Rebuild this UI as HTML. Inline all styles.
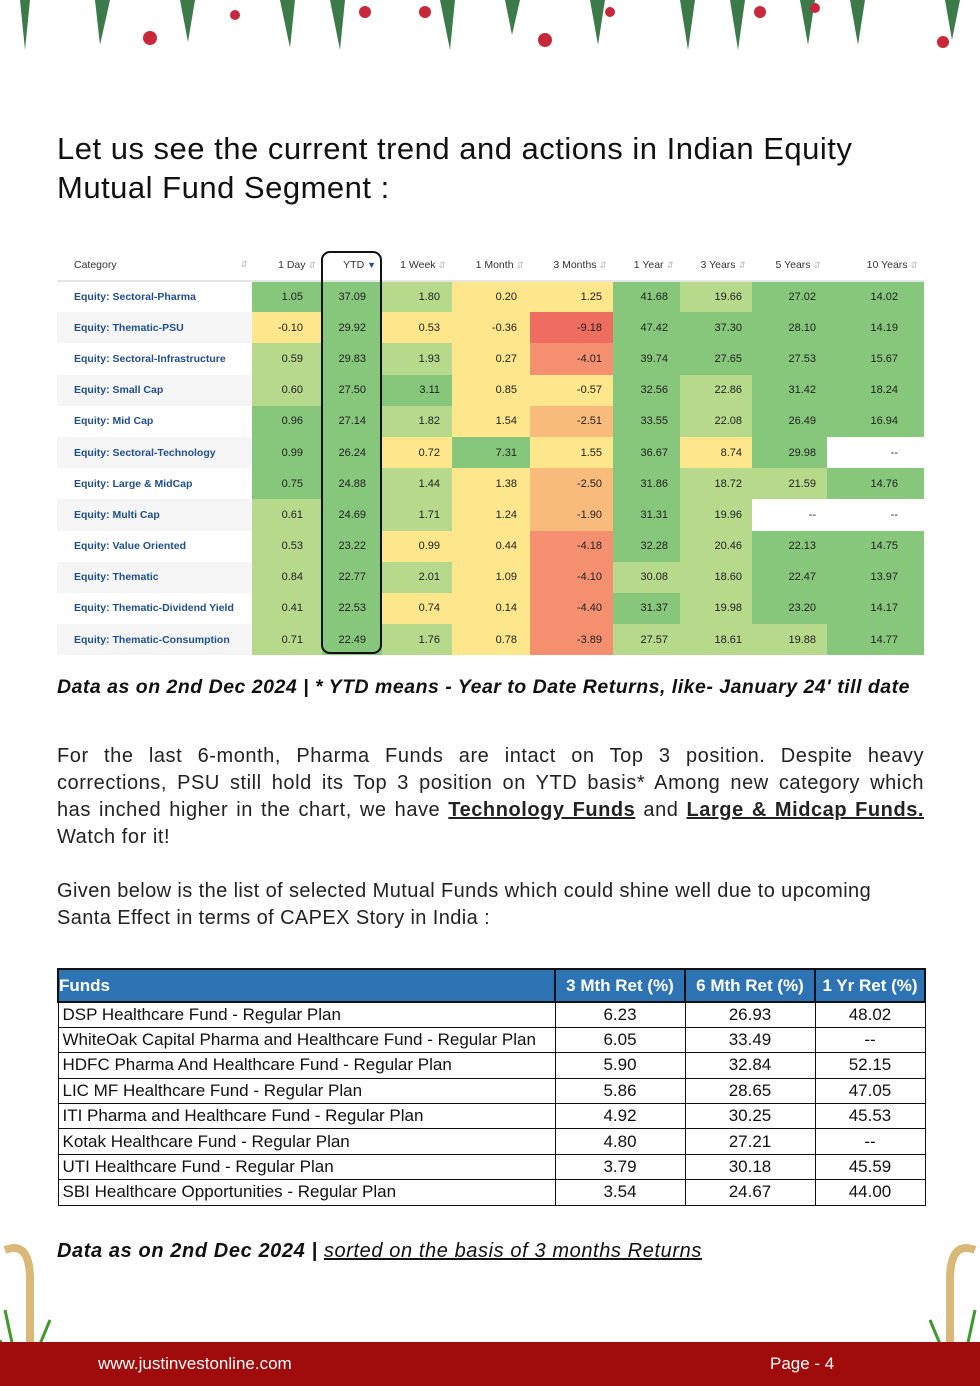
<!DOCTYPE html>
<html><head><meta charset="utf-8">
<style>
*{margin:0;padding:0;box-sizing:border-box}
body{width:980px;height:1386px;position:relative;background:#fff;font-family:"Liberation Sans",sans-serif;overflow:hidden}
.abs{position:absolute}
h1{position:absolute;left:57px;top:129px;font-weight:normal;font-size:31px;line-height:39px;color:#111;letter-spacing:0.5px}
#heat{position:absolute;left:57px;top:249px;width:867px;border-collapse:collapse;font-size:11px;table-layout:fixed}
#heat th{height:32px;font-weight:normal;color:#333;text-align:right;padding-right:6px;border-bottom:2px solid #e5e5e5;background:#fff;font-size:10.5px}
#heat th.cat{text-align:left;padding-left:17px}
#heat td{height:31.2px;text-align:right;color:#222}
#heat td.cat{text-align:left;padding-left:17px;color:#1f4e8c;font-weight:bold;font-size:10.5px}
.arr{color:#bbb;font-size:9px}
.cap{position:absolute;left:57px;font-style:italic;font-weight:bold;font-size:19.5px;color:#111;letter-spacing:0.5px}
.para{position:absolute;left:57px;width:867px;font-size:20px;line-height:27px;color:#222;letter-spacing:0.55px}
.jl{display:block;text-align:justify;text-align-last:justify;white-space:nowrap}
#funds{position:absolute;left:57px;top:968px;width:867px;border-collapse:collapse;font-size:17px;table-layout:fixed}
#funds th{background:#2e74b5;color:#fff;height:33px;border:2px solid #111;font-weight:bold}
#funds td{height:25.4px;border:1.5px solid #111;color:#111;padding:0 4px;text-align:center}
#funds td:first-child,#funds th:first-child{text-align:left}
.footer{position:absolute;left:0;top:1342px;width:980px;height:44px;background:#a00b0b;color:#fff;font-size:17px}
</style></head><body>
<svg class="abs" style="left:0;top:0" width="980" height="55">
<g fill="#3d7a4a"><path d="M20 0 L30 0 L25 50 Z"/><path d="M95 0 L110 0 L100 45 Z"/><path d="M180 0 L195 0 L188 42 Z"/><path d="M280 0 L295 0 L290 48 Z"/><path d="M330 0 L345 0 L340 50 Z"/><path d="M440 0 L455 0 L450 50 Z"/><path d="M505 0 L520 0 L512 35 Z"/><path d="M590 0 L605 0 L598 45 Z"/><path d="M680 0 L695 0 L688 50 Z"/><path d="M730 0 L745 0 L738 50 Z"/><path d="M800 0 L815 0 L808 45 Z"/><path d="M850 0 L865 0 L858 45 Z"/><path d="M945 0 L960 0 L952 40 Z"/></g>
<g fill="#c8283c"><circle cx="150" cy="38" r="7"/><circle cx="235" cy="15" r="5"/><circle cx="365" cy="12" r="6"/><circle cx="425" cy="12" r="6"/><circle cx="545" cy="40" r="7"/><circle cx="610" cy="12" r="5"/><circle cx="760" cy="12" r="6"/><circle cx="815" cy="8" r="5"/><circle cx="943" cy="42" r="6"/></g>
</svg>
<h1>Let us see the current trend and actions in Indian Equity<br>Mutual Fund Segment :</h1>
<table id="heat">
<colgroup><col style="width:195px"><col style="width:70px"><col style="width:60px"><col style="width:70px"><col style="width:78px"><col style="width:83px"><col style="width:67px"><col style="width:72px"><col style="width:75px"><col style="width:97px"></colgroup>
<thead><tr id="hrow"></tr></thead><tbody id="hbody"></tbody></table>
<div class="abs" style="left:321px;top:251px;width:61px;height:403px;border:2.5px solid #111;border-radius:9px"></div>
<div class="cap" style="top:676px">Data as on 2nd Dec 2024 | * YTD means - Year to Date Returns, like- January 24' till date</div>
<div class="para" style="top:743px"><span class="jl">For the last 6-month, Pharma Funds are intact on Top 3 position. Despite heavy</span><span class="jl">corrections, PSU still hold its Top 3 position on YTD basis* Among new category which</span><span class="jl">has inched higher in the chart, we have <b><u>Technology Funds</u></b> and <b><u>Large &amp; Midcap Funds.</u></b></span><span style="display:block">Watch for it!</span></div>
<div class="para" style="top:878px;letter-spacing:0.4px">Given below is the list of selected Mutual Funds which could shine well due to upcoming Santa Effect in terms of CAPEX Story in India :</div>
<table id="funds">
<colgroup><col style="width:497px"><col style="width:130px"><col style="width:130px"><col style="width:110px"></colgroup>
<thead><tr><th>Funds</th><th style="text-align:center">3 Mth Ret (%)</th><th style="text-align:center">6 Mth Ret (%)</th><th style="text-align:center">1 Yr Ret (%)</th></tr></thead>
<tbody id="fbody"></tbody></table>
<div class="cap" style="top:1240px;font-size:20px;letter-spacing:0.6px">Data as on 2nd Dec 2024 | <span style="font-weight:normal;text-decoration:underline">sorted on the basis of 3 months Returns</span></div>
<svg class="abs" style="left:0;top:1240px" width="60" height="146"><path d="M5 10 Q30 0 30 40 L30 140" stroke="#d9b878" stroke-width="8" fill="none"/><g stroke="#3f9a2e" stroke-width="3"><line x1="20" y1="140" x2="5" y2="70"/><line x1="25" y1="140" x2="50" y2="80"/><line x1="20" y1="140" x2="60" y2="110"/><line x1="15" y1="140" x2="0" y2="100"/></g></svg>
<svg class="abs" style="left:920px;top:1240px" width="60" height="146"><path d="M55 10 Q30 0 30 40 L30 140" stroke="#d9b878" stroke-width="8" fill="none"/><g stroke="#3f9a2e" stroke-width="3"><line x1="40" y1="140" x2="55" y2="70"/><line x1="35" y1="140" x2="10" y2="80"/><line x1="40" y1="140" x2="0" y2="110"/></g></svg>
<div class="footer"><span class="abs" style="left:98px;top:12px">www.justinvestonline.com</span><span class="abs" style="left:770px;top:12px">Page - 4</span></div>
<script>
const headers=["Category","1 Day","YTD","1 Week","1 Month","3 Months","1 Year","3 Years","5 Years","10 Years"];
const categories=["Equity: Sectoral-Pharma","Equity: Thematic-PSU","Equity: Sectoral-Infrastructure","Equity: Small Cap","Equity: Mid Cap","Equity: Sectoral-Technology","Equity: Large & MidCap","Equity: Multi Cap","Equity: Value Oriented","Equity: Thematic","Equity: Thematic-Dividend Yield","Equity: Thematic-Consumption"];
const values=[
["1.05","37.09","1.80","0.20","1.25","41.68","19.66","27.02","14.02"],
["-0.10","29.92","0.53","-0.36","-9.18","47.42","37.30","28.10","14.19"],
["0.59","29.83","1.93","0.27","-4.01","39.74","27.65","27.53","15.67"],
["0.60","27.50","3.11","0.85","-0.57","32.56","22.86","31.42","18.24"],
["0.96","27.14","1.82","1.54","-2.51","33.55","22.08","26.49","16.94"],
["0.99","26.24","0.72","7.31","1.55","36.67","8.74","29.98","--"],
["0.75","24.88","1.44","1.38","-2.50","31.86","18.72","21.59","14.76"],
["0.61","24.69","1.71","1.24","-1.90","31.31","19.96","--","--"],
["0.53","23.22","0.99","0.44","-4.18","32.28","20.46","22.13","14.75"],
["0.84","22.77","2.01","1.09","-4.10","30.08","18.60","22.47","13.97"],
["0.41","22.53","0.74","0.14","-4.40","31.37","19.98","23.20","14.17"],
["0.71","22.49","1.76","0.78","-3.89","27.57","18.61","19.88","14.77"]];
const levels=["gglyyglgg","ygyyRgggg","lglyrgggg","lggyyglgg","gglyoglgg","ggygygygw","gglyogllg","lglyoglww","lgyyrglgg","lglyrllgg","lgyyrglgg","lglyrlllg"];
const colors={g:"#86c77b",l:"#b7d98c",y:"#fde68b",o:"#f9bb7c",r:"#f48f70",R:"#ef6d60",w:"#ffffff"};
const cellPad=[19,16,12,13,11,12,10,11,26];
const funds=["DSP Healthcare Fund - Regular Plan","WhiteOak Capital Pharma and Healthcare Fund - Regular Plan","HDFC Pharma And Healthcare Fund - Regular Plan","LIC MF Healthcare Fund - Regular Plan","ITI Pharma and Healthcare Fund - Regular Plan","Kotak Healthcare Fund - Regular Plan","UTI Healthcare Fund - Regular Plan","SBI Healthcare Opportunities - Regular Plan"];
const ret3m=["6.23","6.05","5.90","5.86","4.92","4.80","3.79","3.54"];
const ret6m=["26.93","33.49","32.84","28.65","30.25","27.21","30.18","24.67"];
const ret1y=["48.02","--","52.15","47.05","45.53","--","45.59","44.00"];
const hr=document.getElementById('hrow');
headers.forEach((h,i)=>{const th=document.createElement('th');


if(i===0){th.className='cat';th.innerHTML=h+'<span class="arr" style="float:right;margin-right:-2px">&#8693;</span>';}
else th.innerHTML=h+' <span class="arr"'+(i===2?' style="color:#1f4e8c"':'')+'>'+(i===2?'&#9660;':'&#8693;')+'</span>';
hr.appendChild(th);});
const hb=document.getElementById('hbody');
categories.forEach((c,r)=>{const tr=document.createElement('tr');


const td=document.createElement('td');td.className='cat';td.textContent=c;
td.style.background=r%2?'#f5f5f5':'#fff';


tr.appendChild(td);
values[r].forEach((v,k)=>{const d=document.createElement('td');d.textContent=v;
d.style.background=colors[levels[r][k]]||'#fff';
d.style.paddingRight=cellPad[k]+'px';


tr.appendChild(d);});
hb.appendChild(tr);});
const fb=document.getElementById('fbody');
funds.forEach((f,i)=>{const tr=document.createElement('tr');


[f,ret3m[i],ret6m[i],ret1y[i]].forEach(v=>{const td=document.createElement('td');td.textContent=v;tr.appendChild(td);});
fb.appendChild(tr);});
</script>
</body></html>
